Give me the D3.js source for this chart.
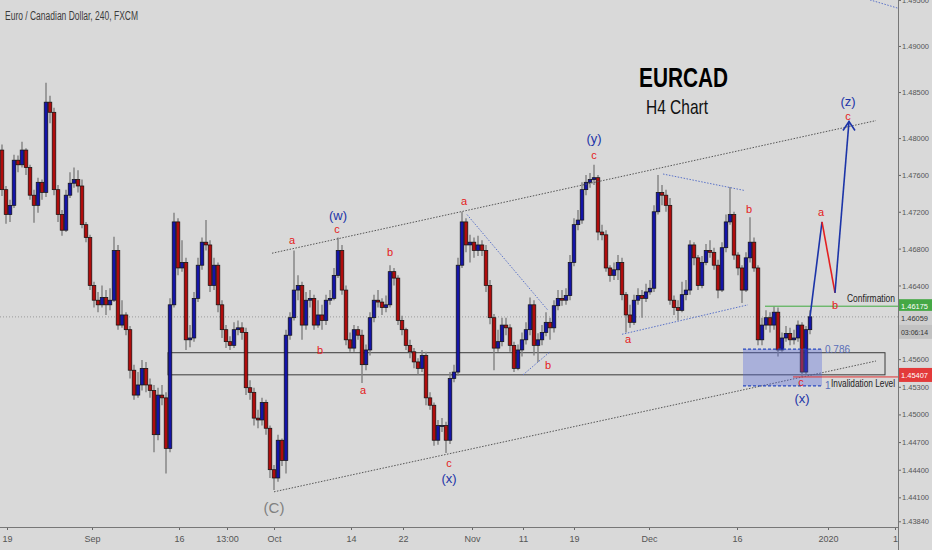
<!DOCTYPE html>
<html><head><meta charset="utf-8">
<script src="https://cdn.jsdelivr.net/npm/d3@7"></script>
<style>body{margin:0;background:#d9d9d9;}svg{display:block;}</style>
</head><body><svg id="c" width="932" height="550"></svg>
<script>
// ---------- DATA ----------
const firstOpen = 1.4787;
const closes = [
1.4744,1.4717,1.4727,1.4776,1.4771,1.4787,1.4768,1.4738,1.4727,1.4752,
1.4741,1.4839,1.4828,1.4744,1.4717,1.4700,1.4738,1.4751,1.4755,1.4748,
1.4706,1.4692,1.4640,1.4624,1.4619,1.4627,1.4619,1.4624,1.4678,1.4597,
1.4608,1.4592,1.4548,1.4521,1.4532,1.4550,1.4532,1.4526,1.4478,1.4521,
1.4518,1.4463,1.4619,1.4709,1.4659,1.4665,1.4581,1.4583,1.4626,1.4662,
1.4687,1.4684,1.4640,1.4662,1.4619,1.4592,1.4579,1.4575,1.4592,1.4594,
1.4589,1.4529,1.4524,1.4496,1.4494,1.4513,1.4485,1.4440,1.4431,1.4472,
1.4450,1.4586,1.4605,1.4635,1.4640,1.4597,1.4624,1.4626,1.4597,1.4608,
1.4602,1.4624,1.4626,1.4651,1.4678,1.4635,1.4581,1.4572,1.4592,1.4586,
1.4554,1.4570,1.4605,1.4624,1.4622,1.4616,1.4619,1.4655,1.4648,1.4602,
1.4592,1.4575,1.4568,1.4557,1.4550,1.4564,1.4518,1.4510,1.4472,1.4488,
1.4488,1.4472,1.4539,1.4546,1.4662,1.4709,1.4684,1.4687,1.4678,1.4684,
1.4678,1.4640,1.4605,1.4572,1.4579,1.4597,1.4594,1.4575,1.4550,1.4570,
1.4581,1.4592,1.4619,1.4575,1.4581,1.4589,1.4600,1.4594,1.4618,1.4626,
1.4624,1.4629,1.4665,1.4706,1.4711,1.4744,1.4752,1.4755,1.4757,1.4698,
1.4695,1.4659,1.4651,1.4657,1.4665,1.4630,1.4608,1.4600,1.4624,1.4629,
1.4626,1.4633,1.4637,1.4720,1.4741,1.4738,1.4727,1.4624,1.4616,1.4613,
1.4630,1.4635,1.4684,1.4670,1.4640,1.4665,1.4678,1.4676,1.4662,1.4635,
1.4681,1.4709,1.4717,1.4673,1.4659,1.4635,1.4670,1.4687,1.4659,1.4581,
1.4597,1.4605,1.4597,1.4611,1.4570,1.4583,1.4588,1.4581,1.4583,1.4597,
1.4546,1.4592,1.4606];
const highs = [
1.4793,1.4748,1.4733,1.4782,1.4781,1.4796,1.4789,1.4771,1.4744,1.4757,
1.4755,1.4860,1.4846,1.4833,1.4749,1.4722,1.4744,1.4763,1.4768,1.4765,
1.4755,1.4709,1.4695,1.4644,1.4633,1.4640,1.4635,1.4637,1.4693,1.4684,
1.4624,1.4611,1.4596,1.4554,1.4546,1.4559,1.4557,1.4539,1.4532,1.4529,
1.4532,1.4524,1.4626,1.4719,1.4713,1.4689,1.4670,1.4597,1.4633,1.4670,
1.4692,1.4711,1.4689,1.4670,1.4665,1.4624,1.4597,1.4585,1.4600,1.4602,
1.4600,1.4594,1.4537,1.4529,1.4505,1.4518,1.4516,1.4488,1.4445,1.4478,
1.4474,1.4592,1.4611,1.4678,1.4651,1.4644,1.4633,1.4635,1.4630,1.4624,
1.4619,1.4630,1.4635,1.4659,1.4692,1.4684,1.4640,1.4589,1.4597,1.4596,
1.4592,1.4576,1.4611,1.4630,1.4635,1.4626,1.4629,1.4662,1.4659,1.4651,
1.4607,1.4594,1.4581,1.4572,1.4561,1.4570,1.4568,1.4524,1.4513,1.4494,
1.4496,1.4492,1.4546,1.4554,1.4670,1.4720,1.4713,1.4695,1.4692,1.4694,
1.4689,1.4684,1.4646,1.4609,1.4592,1.4605,1.4605,1.4598,1.4579,1.4576,
1.4589,1.4600,1.4627,1.4624,1.4588,1.4597,1.4611,1.4605,1.4624,1.4635,
1.4635,1.4637,1.4673,1.4713,1.4722,1.4752,1.4760,1.4762,1.4771,1.4760,
1.4706,1.4700,1.4662,1.4665,1.4673,1.4670,1.4633,1.4619,1.4630,1.4637,
1.4635,1.4642,1.4646,1.4727,1.4760,1.4749,1.4744,1.4735,1.4629,1.4624,
1.4644,1.4646,1.4689,1.4687,1.4673,1.4672,1.4685,1.4689,1.4681,1.4668,
1.4687,1.4717,1.4747,1.4720,1.4676,1.4662,1.4676,1.4714,1.4692,1.4662,
1.4605,1.4613,1.4611,1.4617,1.4616,1.4589,1.4596,1.4594,1.4592,1.4602,
1.4600,1.4596,1.4613];
const lows = [
1.4737,1.4707,1.4709,1.4724,1.4763,1.4768,1.4760,1.4733,1.4708,1.4719,
1.4733,1.4736,1.4816,1.4738,1.4709,1.4694,1.4698,1.4735,1.4746,1.4741,
1.4702,1.4687,1.4635,1.4616,1.4611,1.4616,1.4608,1.4613,1.4622,1.4592,
1.4594,1.4586,1.4539,1.4516,1.4518,1.4526,1.4524,1.4518,1.4459,1.4472,
1.4510,1.4436,1.4459,1.4616,1.4651,1.4655,1.4570,1.4573,1.4579,1.4622,
1.4657,1.4678,1.4633,1.4635,1.4611,1.4583,1.4572,1.4570,1.4572,1.4586,
1.4581,1.4521,1.4516,1.4488,1.4485,1.4488,1.4478,1.4431,1.4418,1.4427,
1.4444,1.4436,1.4581,1.4602,1.4624,1.4581,1.4592,1.4616,1.4592,1.4594,
1.4592,1.4597,1.4619,1.4624,1.4648,1.4630,1.4575,1.4568,1.4568,1.4581,
1.4534,1.4548,1.4564,1.4600,1.4616,1.4608,1.4611,1.4616,1.4640,1.4597,
1.4586,1.4570,1.4561,1.4550,1.4543,1.4546,1.4510,1.4505,1.4466,1.4467,
1.4481,1.4458,1.4468,1.4535,1.4542,1.4659,1.4676,1.4665,1.4670,1.4672,
1.4672,1.4633,1.4598,1.4548,1.4568,1.4574,1.4586,1.4568,1.4546,1.4548,
1.4563,1.4576,1.4586,1.4564,1.4557,1.4575,1.4585,1.4581,1.4589,1.4613,
1.4618,1.4619,1.4624,1.4661,1.4700,1.4707,1.4738,1.4746,1.4749,1.4689,
1.4689,1.4655,1.4644,1.4646,1.4646,1.4624,1.4589,1.4594,1.4597,1.4619,
1.4605,1.4622,1.4630,1.4633,1.4717,1.4727,1.4720,1.4619,1.4608,1.4602,
1.4611,1.4624,1.4630,1.4662,1.4635,1.4637,1.4662,1.4670,1.4657,1.4626,
1.4633,1.4676,1.4706,1.4668,1.4651,1.4621,1.4633,1.4665,1.4655,1.4575,
1.4575,1.4592,1.4589,1.4592,1.4563,1.4568,1.4579,1.4575,1.4576,1.4579,
1.4541,1.4544,1.4587];

const xTickLabels = ["19","Sep","16","13:00","Oct","14","22","Nov","11","19","Dec","16","2020","1"];
const xTickBars   = [1.25,22.5,44.25,56.25,68,87.25,100.25,117.5,130.25,143,161.75,183.75,206.5,223.25];
const yTickValues = [1.495,1.49,1.485,1.48,1.476,1.472,1.468,1.464,1.456,1.453,1.45,1.447,1.444,1.441,1.4384];

const currentPrice = 1.46059;
const confirmationPrice = 1.46175;
const invalidationPrice = 1.45407;
const confirmationFromBar = 190.75;
const invalidationFromBar = 197.75;
const boxBars = [41.5, 220.75];
const boxPrices = [1.4543, 1.4567];
const fibBars = [185.25, 205];
const fibPrices = [1.4571, 1.4531];
const fibLabels = ["0.786", "1"];
const channelLines = [[67.5,1.4675,218.5,1.4819],[68,1.4416,218.5,1.4558]];
const triangleLines = [[116.25,1.4717,136.5,1.4613],[130.25,1.4543,137,1.4568],[165.25,1.4761,185.75,1.4743],[155,1.4587,186.5,1.4619],[217,1.4950,224,1.4941]];
const projection = [[202,1.4606],[205,1.4709],[208.25,1.4632],[211.75,1.4818]];
const waveText  = ["(C)","a","(w)","c","b","b","a","c","(x)","a","b","(y)","c","a","b","c","(x)","a","b","(z)","c"];
const waveBar   = [68,72.5,84,83.75,79.5,97,90.25,111.75,111.75,115.5,136.5,148,148,156.5,186.75,199.75,200,204.75,208.25,211.5,211.5];
const wavePrice = [1.4399,1.4689,1.4716,1.4701,1.4570,1.4676,1.4526,1.4447,1.4430,1.4732,1.4553,1.4800,1.4782,1.4582,1.4723,1.4535,1.4517,1.4720,1.4619,1.4840,1.4824];
const waveDegree= [2,0,1,0,0,0,0,0,1,0,0,1,0,0,0,0,1,0,0,1,0];

// ---------- CHART ----------
const svg = d3.select("#c");
const plotR = 898, plotB = 527;
const x = d3.scaleLinear().domain([0, closes.length - 1]).range([2, 810]);
const y = d3.scaleLinear().domain([1.43778, 1.49499]).range([527, 0]);
const opens = closes.map((c, i) => i ? closes[i - 1] : firstOpen);
const BLUE = "#1c34a8", RED = "#e42020";
const font = "'Liberation Sans Narrow', 'Liberation Sans', Arial, sans-serif";
const fmt = d3.format(".5f");

svg.append("rect").attr("width", 932).attr("height", 550).attr("fill", "#d9d9d9");
svg.append("defs").append("clipPath").attr("id", "clip")
  .append("rect").attr("width", plotR).attr("height", plotB);
const g = svg.append("g").attr("clip-path", "url(#clip)");

// current price line
g.append("line").attr("x1", 0).attr("x2", plotR).attr("y1", y(currentPrice)).attr("y2", y(currentPrice))
  .attr("stroke", "#9a9a9a").attr("stroke-width", 1).attr("stroke-dasharray", "1,2");

// rectangle zone
g.append("rect").attr("x", x(boxBars[0])).attr("y", y(boxPrices[1]))
  .attr("width", x(boxBars[1]) - x(boxBars[0])).attr("height", y(boxPrices[0]) - y(boxPrices[1]))
  .attr("fill", "none").attr("stroke", "#3a3a3a").attr("stroke-width", 1);

// candles
const cg = g.append("g");
cg.selectAll("line.w").data(closes).join("line").attr("class", "w")
  .attr("x1", (d, i) => x(i)).attr("x2", (d, i) => x(i))
  .attr("y1", (d, i) => y(highs[i])).attr("y2", (d, i) => y(lows[i]))
  .attr("stroke", "#808080").attr("stroke-width", 1.4);
cg.selectAll("rect.b").data(closes).join("rect").attr("class", "b")
  .attr("x", (d, i) => x(i) - 1.8).attr("width", 3.6)
  .attr("y", (d, i) => y(Math.max(opens[i], d)))
  .attr("height", (d, i) => Math.max(1, Math.abs(y(opens[i]) - y(d))))
  .attr("fill", (d, i) => d >= opens[i] ? "#1414a8" : "#b00c0c")
  .attr("stroke", "#111").attr("stroke-width", 0.7);

// channel lines
channelLines.forEach(l => g.append("line")
  .attr("x1", x(l[0])).attr("y1", y(l[1])).attr("x2", x(l[2])).attr("y2", y(l[3]))
  .attr("stroke", "#555").attr("stroke-width", 1).attr("stroke-dasharray", "1.5,1.5"));
triangleLines.forEach(l => g.append("line")
  .attr("x1", x(l[0])).attr("y1", y(l[1])).attr("x2", x(l[2])).attr("y2", y(l[3]))
  .attr("stroke", "#5a72c8").attr("stroke-width", 1).attr("stroke-dasharray", "1.5,1.5"));

// fib zone
const fx0 = x(fibBars[0]), fx1 = x(fibBars[1]);
g.append("rect").attr("x", fx0).attr("y", y(fibPrices[0])).attr("width", fx1 - fx0)
  .attr("height", y(fibPrices[1]) - y(fibPrices[0])).attr("fill", "rgba(80,100,220,0.35)");
fibPrices.forEach((p, k) => {
  g.append("line").attr("x1", fx0).attr("x2", fx1).attr("y1", y(p)).attr("y2", y(p))
    .attr("stroke", "#2a4ac0").attr("stroke-width", 1.2).attr("stroke-dasharray", "3,2");
  g.append("text").attr("x", fx1 + 3).attr("y", y(p)).attr("dy", "0.35em")
    .attr("font-family", font).attr("font-size", 10).attr("fill", "#5a6fb8").text(fibLabels[k]);
});

// level lines
g.append("line").attr("x1", x(confirmationFromBar)).attr("x2", plotR)
  .attr("y1", y(confirmationPrice)).attr("y2", y(confirmationPrice)).attr("stroke", "#3faa3f").attr("stroke-width", 1);
g.append("line").attr("x1", x(invalidationFromBar)).attr("x2", plotR)
  .attr("y1", y(invalidationPrice)).attr("y2", y(invalidationPrice)).attr("stroke", "#e03030").attr("stroke-width", 1);
g.append("text").attr("x", 847).attr("y", y(confirmationPrice) - 8).attr("dy", "0.35em")
  .attr("font-family", font).attr("font-size", 10).attr("fill", "#222")
  .attr("textLength", 48).attr("lengthAdjust", "spacingAndGlyphs").text("Confirmation");
g.append("text").attr("x", 831).attr("y", y(invalidationPrice) + 7).attr("dy", "0.35em")
  .attr("font-family", font).attr("font-size", 10).attr("fill", "#222")
  .attr("textLength", 64).attr("lengthAdjust", "spacingAndGlyphs").text("Invalidation Level");

// projection
const segColors = [BLUE, RED, BLUE];
for (let k = 0; k < projection.length - 1; k++) {
  g.append("line").attr("x1", x(projection[k][0])).attr("y1", y(projection[k][1]))
    .attr("x2", x(projection[k + 1][0])).attr("y2", y(projection[k + 1][1]))
    .attr("stroke", segColors[k]).attr("stroke-width", 1.6);
}
const tip = projection[projection.length - 1];
const tx = x(tip[0]), ty = y(tip[1]);
g.append("path").attr("d", `M${tx - 6},${ty + 9}L${tx},${ty}L${tx + 6},${ty + 9}`)
  .attr("fill", "none").attr("stroke", BLUE).attr("stroke-width", 1.6);

// wave labels
const degColor = [RED, BLUE, "#808080"];
const degSize = [11, 13, 15];
waveText.forEach((t, k) => {
  g.append("text").attr("x", x(waveBar[k])).attr("y", y(wavePrice[k])).attr("dy", "0.35em")
    .attr("text-anchor", "middle").attr("font-family", "'Liberation Sans', Arial, sans-serif")
    .attr("font-size", degSize[waveDegree[k]]).attr("fill", degColor[waveDegree[k]]).text(t);
});

// titles
svg.append("text").attr("x", 5).attr("y", 20).attr("font-family", font).attr("font-size", 12)
  .attr("fill", "#3c3c3c").attr("textLength", 133).attr("lengthAdjust", "spacingAndGlyphs")
  .text("Euro / Canadian Dollar, 240, FXCM");
svg.append("text").attr("x", 639).attr("y", 87).attr("font-family", font).attr("font-size", 27)
  .attr("font-weight", "bold").attr("fill", "#000").attr("textLength", 89).attr("lengthAdjust", "spacingAndGlyphs")
  .text("EURCAD");
svg.append("text").attr("x", 646).attr("y", 114).attr("font-family", font).attr("font-size", 21)
  .attr("fill", "#111").attr("textLength", 62).attr("lengthAdjust", "spacingAndGlyphs")
  .text("H4 Chart");

// axes
const ya = svg.append("g").attr("transform", `translate(${plotR},0)`)
  .call(d3.axisRight(y).tickValues(yTickValues).tickFormat(fmt).tickSize(3).tickPadding(1));
ya.select(".domain").remove();
ya.selectAll("line").attr("stroke", "#666");
ya.selectAll("text").attr("font-family", font).attr("font-size", 8).attr("fill", "#555")
  .attr("textLength", 27).attr("lengthAdjust", "spacingAndGlyphs");
svg.append("line").attr("x1", plotR + 0.5).attr("x2", plotR + 0.5).attr("y1", 0).attr("y2", 550).attr("stroke", "#777");

const xa = svg.append("g").attr("transform", `translate(0,${plotB})`)
  .call(d3.axisBottom(x).tickValues(xTickBars).tickFormat((d, i) => xTickLabels[i]).tickSize(3).tickPadding(6));
xa.select(".domain").remove();
xa.selectAll("line").attr("stroke", "#666");
xa.selectAll("text").attr("font-family", font).attr("font-size", 9).attr("fill", "#555");
svg.append("line").attr("x1", 0).attr("x2", plotR).attr("y1", plotB + 0.5).attr("y2", plotB + 0.5).attr("stroke", "#777");

// price tags on axis
function tag(price, bg, fg, label, yOff) {
  const yy = y(price) + (yOff || 0);
  svg.append("rect").attr("x", plotR + 1).attr("y", yy - 7).attr("width", 33).attr("height", 14).attr("fill", bg);
  svg.append("text").attr("x", plotR + 3).attr("y", yy).attr("dy", "0.35em").attr("font-family", font)
    .attr("font-size", 8).attr("fill", fg).attr("textLength", 27).attr("lengthAdjust", "spacingAndGlyphs").text(label);
}
tag(confirmationPrice, "#45a845", "#fff", fmt(confirmationPrice));
tag(currentPrice, "#cfcfcf", "#333", fmt(currentPrice), 1);
tag(currentPrice, "#c2c2c2", "#333", "03:06:14", 15);
tag(invalidationPrice, "#e33a3a", "#fff", fmt(invalidationPrice), -2);
</script></body></html>
